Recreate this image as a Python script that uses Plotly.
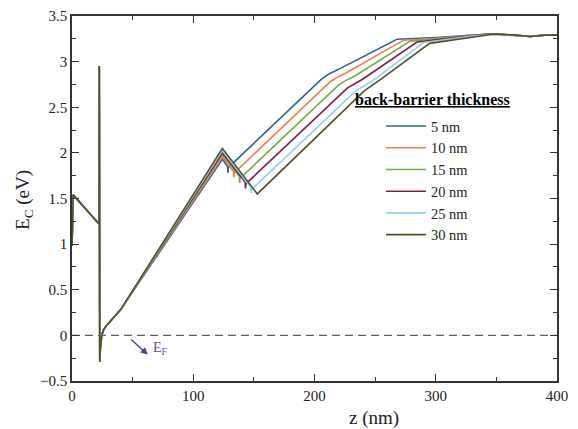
import plotly.graph_objects as go

# ---------------- data ----------------
labels = ["5 nm", "10 nm", "15 nm", "20 nm", "25 nm", "30 nm"]
colors = ["#2d6494", "#f37a4c", "#72ad45", "#7d1d4d", "#93cdf0", "#4b5626"]

# shared front part (surface barrier, spike, channel) – z in nm, E in eV
z_front = [0, 1.0, 22.3, 22.5, 22.9, 23.4, 24.5, 26, 28, 31, 35, 40]
E_front = [0.98, 1.54, 1.22, 2.95, -0.29, -0.14, 0.0, 0.06, 0.10, 0.145, 0.20, 0.28]

# per-series remainder (peak, dip, kink, plateau)
z_5 = [124, 128.3, 128.6, 129.0, 206, 212, 219, 268, 300, 330, 347, 365, 378, 390, 400]
E_5 = [1.93, 1.85, 1.78, 1.84, 2.81, 2.865, 2.91, 3.245, 3.265, 3.29, 3.305, 3.29, 3.275, 3.29, 3.29]

z_10 = [124, 133.2, 133.5, 133.8, 213, 219, 226, 273.5, 300, 330, 347, 365, 378, 390, 400]
E_10 = [1.955, 1.80, 1.73, 1.78, 2.78, 2.83, 2.875, 3.235, 3.255, 3.29, 3.305, 3.29, 3.275, 3.29, 3.29]

z_15 = [124, 138.0, 138.3, 138.6, 220, 226, 233, 279, 300, 330, 347, 365, 378, 390, 400]
E_15 = [1.98, 1.74, 1.67, 1.72, 2.745, 2.795, 2.84, 3.225, 3.25, 3.285, 3.305, 3.29, 3.275, 3.29, 3.29]

z_20 = [124, 142.8, 143.1, 143.4, 227, 233, 240, 284.5, 305, 330, 347, 365, 378, 390, 400]
E_20 = [2.00, 1.68, 1.61, 1.66, 2.71, 2.76, 2.81, 3.215, 3.25, 3.285, 3.305, 3.29, 3.275, 3.29, 3.29]

z_25 = [124, 147.6, 147.9, 148.2, 234, 240, 247, 290, 310, 330, 347, 365, 378, 390, 400]
E_25 = [2.025, 1.62, 1.56, 1.60, 2.68, 2.73, 2.78, 3.21, 3.245, 3.28, 3.30, 3.29, 3.275, 3.29, 3.29]

z_30 = [124, 152.8, 241, 247, 254, 295, 315, 335, 347, 365, 378, 390, 400]
E_30 = [2.05, 1.55, 2.68, 2.74, 2.80, 3.20, 3.24, 3.28, 3.30, 3.29, 3.275, 3.29, 3.29]

z_tails = [z_5, z_10, z_15, z_20, z_25, z_30]
E_tails = [E_5, E_10, E_15, E_20, E_25, E_30]

EF = 0.0

FONT = "Liberation Serif, Times New Roman, serif"

fig = go.Figure()

# Fermi level
fig.add_trace(go.Scatter(x=[0, 400], y=[EF, EF], mode="lines",
                         line=dict(color="#6b4c9a", width=1.3, dash="8px,5px"),
                         showlegend=False, hoverinfo="skip"))

for lab, col, zt, et in zip(labels, colors, z_tails, E_tails):
    fig.add_trace(go.Scatter(x=z_front + zt, y=E_front + et, mode="lines",
                             name=lab, line=dict(color=col, width=1.6)))

# E_F arrow and label
fig.add_annotation(x=62.5, y=-0.21, ax=47.5, ay=-0.03, xref="x", yref="y",
                   axref="x", ayref="y", text="", showarrow=True,
                   arrowhead=2, arrowsize=1, arrowwidth=1.4, arrowcolor="#5b3a8c")
fig.add_annotation(x=65, y=-0.14, xref="x", yref="y", text="E<sub>F</sub>",
                   showarrow=False, xanchor="left", yanchor="middle",
                   font=dict(family=FONT, size=14, color="#6b4c9a"))

# legend title
fig.add_annotation(x=0.744, y=0.770, xref="paper", yref="paper",
                   xanchor="center", yanchor="middle",
                   text="<b><u>back-barrier thickness</u></b>", showarrow=False,
                   font=dict(family=FONT, size=16, color="black"))

# axis titles
fig.add_annotation(x=0.623, y=-0.101, xref="paper", yref="paper",
                   xanchor="center", yanchor="middle", showarrow=False,
                   text="z (nm)", font=dict(family=FONT, size=19, color="#222222"))
fig.add_annotation(x=-0.099, y=0.496, xref="paper", yref="paper",
                   xanchor="center", yanchor="middle", showarrow=False, textangle=-90,
                   text="E<sub>C</sub> (eV)", font=dict(family=FONT, size=19, color="#222222"))

axis_common = dict(showline=True, linecolor="#333333", linewidth=1.5,
                   mirror="ticks", ticks="inside", ticklen=7, tickwidth=1.3,
                   tickcolor="#333333", showgrid=False, zeroline=False,
                   automargin=False,
                   tickfont=dict(family=FONT, size=15, color="#222222"))

fig.update_xaxes(range=[0, 400], tickvals=[0, 100, 200, 300, 400],
                 minor=dict(ticks="inside", ticklen=4, tickwidth=1.2,
                            tickcolor="#333333", tickvals=[50, 150, 250, 350]),
                 **axis_common)
fig.update_yaxes(range=[-0.5, 3.5],
                 tickvals=[-0.5, 0, 0.5, 1, 1.5, 2, 2.5, 3, 3.5],
                 ticktext=["\u22120.5", "0", "0.5", "1", "1.5", "2", "2.5", "3", "3.5"],
                 minor=dict(ticks="inside", ticklen=4, tickwidth=1.2, tickcolor="#333333",
                            tickvals=[-0.25, 0.25, 0.75, 1.25, 1.75, 2.25, 2.75, 3.25]),
                 **axis_common)

fig.update_layout(
    width=578, height=429,
    margin=dict(l=72, r=21, t=16, b=48, autoexpand=False),
    paper_bgcolor="white", plot_bgcolor="white",
    legend=dict(x=0.637, y=0.742, xanchor="left", yanchor="top",
                font=dict(family=FONT, size=14.4, color="#222222"),
                bgcolor="rgba(0,0,0,0)", itemwidth=40, tracegroupgap=0),
    font=dict(family=FONT),
)

fig.write_html("out.html")
